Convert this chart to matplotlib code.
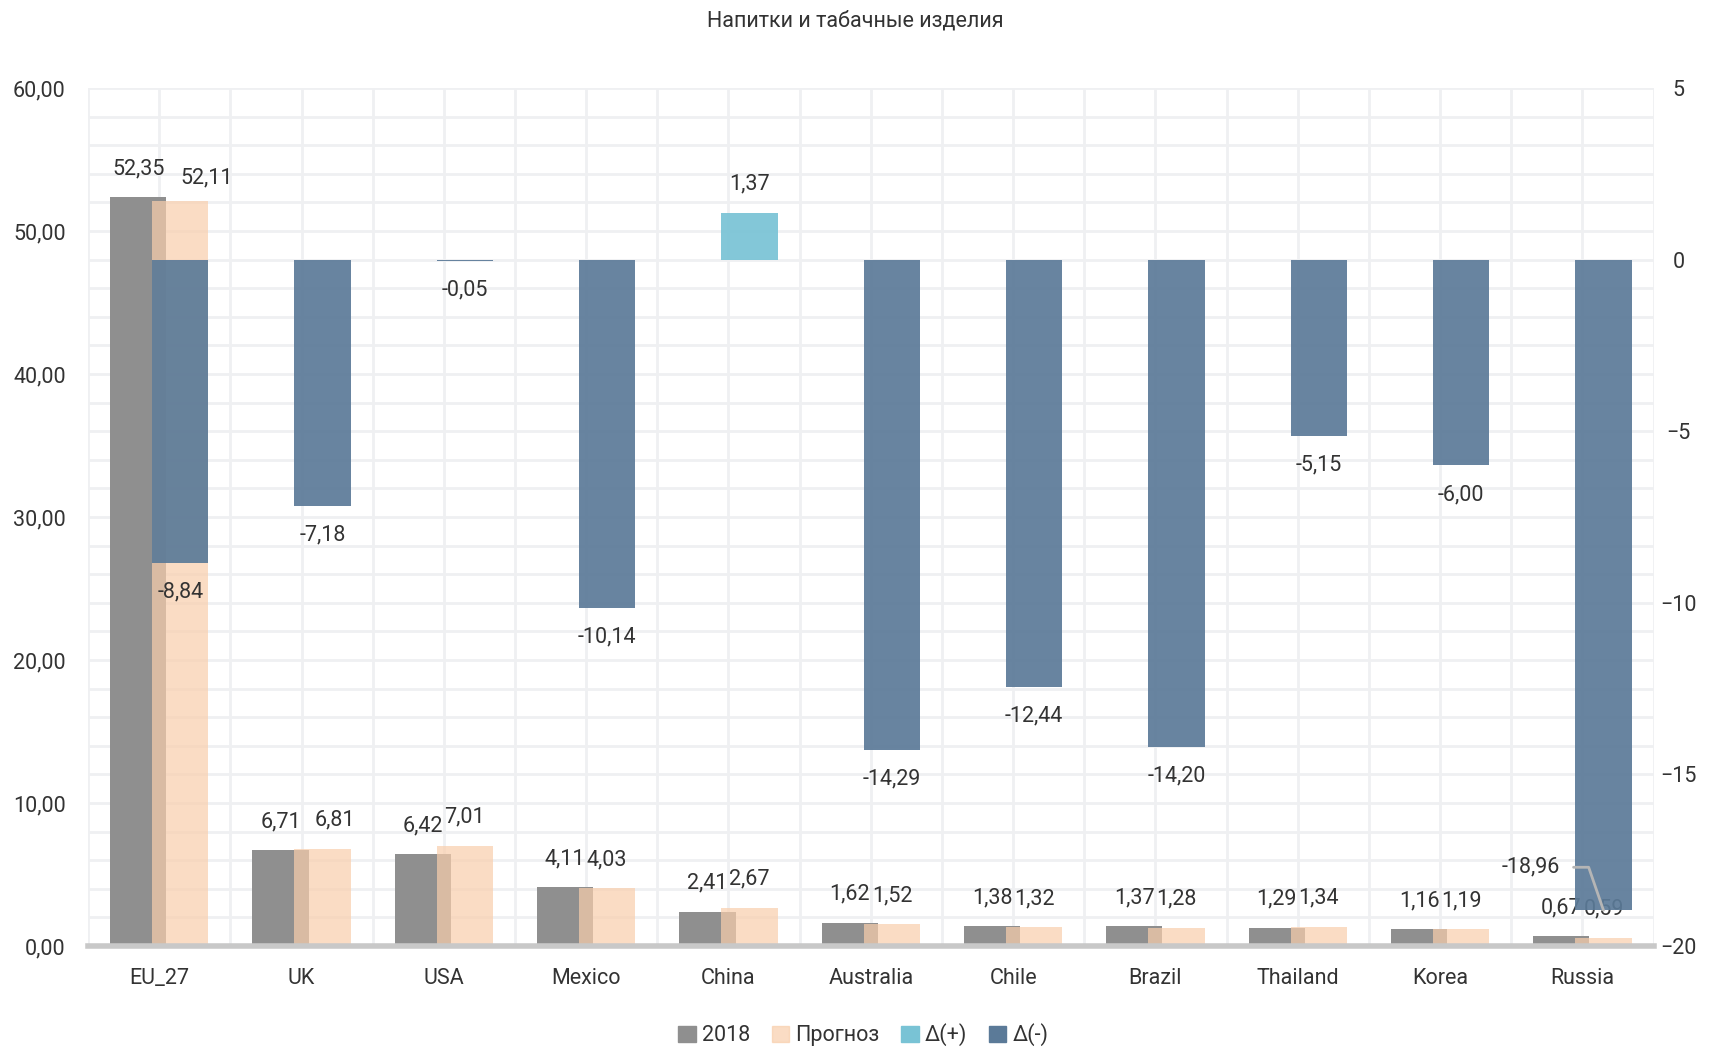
import numpy as np
import matplotlib.pyplot as plt
from matplotlib.patches import Patch

plt.rcParams['font.family'] = ['Roboto', 'DejaVu Sans']

countries = ['EU_27', 'UK', 'USA', 'Mexico', 'China', 'Australia', 'Chile',
             'Brazil', 'Thailand', 'Korea', 'Russia']
v2018 = [52.35, 6.71, 6.42, 4.11, 2.41, 1.62, 1.38, 1.37, 1.29, 1.16, 0.67]
forecast = [52.11, 6.81, 7.01, 4.03, 2.67, 1.52, 1.32, 1.28, 1.34, 1.19, 0.59]
delta = [-8.84, -7.18, -0.05, -10.14, 1.37, -14.29, -12.44, -14.20, -5.15, -6.00, -18.96]

def fmt(v):
    return f"{v:.2f}".replace('.', ',')

c_2018 = '#8f8f8f'
c_fc = (249/255, 206/255, 172/255, 0.7)
c_pos = '#79c3d5'
c_neg = '#5b7a98'
txt = '#333333'
fs = 15.5

fig = plt.figure(figsize=(17.1, 10.47), dpi=100)
ax = fig.add_axes([0.0515, 0.0965, 0.9155, 0.8195])
ax2 = ax.twinx()

x = np.arange(len(countries))
w = 0.395
off = 0.148

ax.bar(x - off, v2018, w, color=c_2018, zorder=2)
ax.bar(x + off, forecast, w, color=c_fc, zorder=3)

# label nudges where the labels would collide (EU_27, UK)
fc_dx = {0: 26, 1: 12}
fc_dy = {0: 12}
for i in range(len(countries)):
    ax.annotate(fmt(v2018[i]), (x[i] - off, v2018[i]), xytext=(0, 18),
                textcoords='offset pixels', ha='center', va='bottom',
                fontsize=fs, color=txt)
    ax.annotate(fmt(forecast[i]), (x[i] + off, forecast[i]),
                xytext=(fc_dx.get(i, 0), fc_dy.get(i, 18)),
                textcoords='offset pixels', ha='center', va='bottom',
                fontsize=fs, color=txt)

ax.set_xlim(-0.5, len(countries) - 0.5)
ax.set_ylim(0, 60)
ax.set_yticks(np.arange(0, 61, 10))
ax.set_yticklabels([fmt(v) for v in np.arange(0, 61, 10)])
ax.set_yticks(np.arange(0, 61, 2), minor=True)
ax.set_xticks(x)
ax.set_xticklabels(countries)
ax.set_xticks(np.arange(-0.5, len(countries), 1.0), minor=True)
ax.grid(True, which='both', color='#eff0f2', linewidth=2, zorder=0)
ax.set_axisbelow(True)
ax.tick_params(which='both', length=0)
ax.tick_params(axis='y', labelsize=fs, labelcolor=txt, pad=16)
ax.tick_params(axis='x', labelsize=fs, labelcolor=txt, pad=16)
for s in ['top', 'right', 'left']:
    ax.spines[s].set_visible(False)
ax.spines['bottom'].set_color('#c8c8c8')
ax.spines['bottom'].set_linewidth(4)
ax.spines['bottom'].set_zorder(5)

colors = [c_pos if d > 0 else c_neg for d in delta]
ax2.bar(x + off, delta, w, color=colors, alpha=0.92, zorder=3)
ax2.set_ylim(-20, 5)
ax2.set_yticks(np.arange(-20, 6, 5))
ax2.tick_params(length=0, labelsize=fs, labelcolor=txt, pad=18)
for lbl in ax2.get_yticklabels():
    lbl.set_horizontalalignment('center')
for s in ax2.spines.values():
    s.set_visible(False)

for i, d in enumerate(delta):
    if countries[i] == 'Russia':
        ax2.annotate(fmt(d), (x[i] + off, d), xytext=(-73, 43),
                     textcoords='offset pixels', ha='center', va='center',
                     fontsize=fs, color=txt,
                     arrowprops=dict(arrowstyle='-', color='#b5b5b5', lw=2,
                                     relpos=(1, 0.5), shrinkA=8, shrinkB=0,
                                     connectionstyle='angle,angleA=0,angleB=109,rad=0'))
    elif d > 0:
        ax2.annotate(fmt(d), (x[i] + off, d), xytext=(0, 29),
                     textcoords='offset pixels', ha='center', va='center',
                     fontsize=fs, color=txt)
    else:
        ax2.annotate(fmt(d), (x[i] + off, d), xytext=(0, -29),
                     textcoords='offset pixels', ha='center', va='center',
                     fontsize=fs, color=txt)

fig.suptitle('Напитки и табачные изделия', y=0.98, va='center', fontsize=fs, color=txt)

handles = [Patch(color=c_2018, label='2018'),
           Patch(color=c_fc, label='Прогноз'),
           Patch(color=c_pos, label='Δ(+)'),
           Patch(color=c_neg, label='Δ(-)')]
fig.legend(handles=handles, loc='lower center', bbox_to_anchor=(0.505, -0.018),
           ncol=4, frameon=False, fontsize=fs, handlelength=0.8, handleheight=0.8,
           handletextpad=0.3, columnspacing=1.0, labelcolor=txt)

fig.savefig('out.png')
